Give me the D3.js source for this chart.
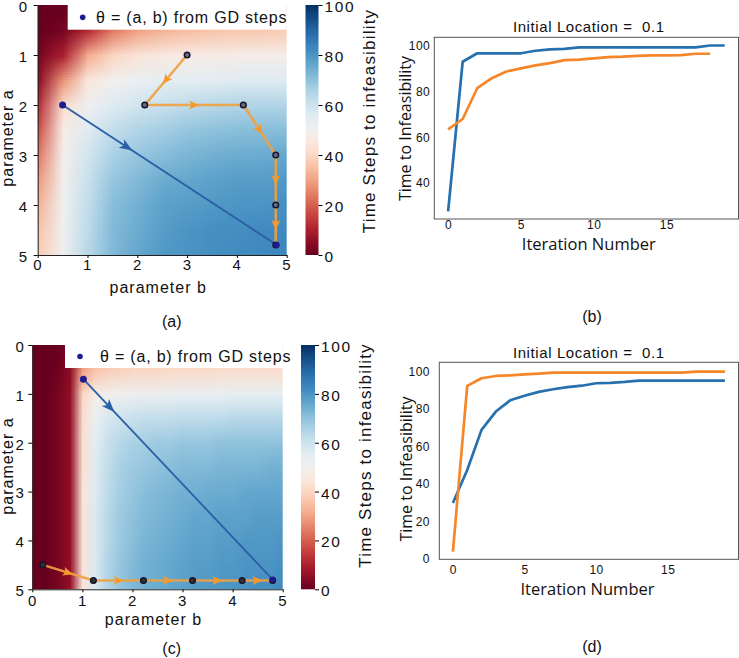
<!DOCTYPE html>
<html>
<head>
<meta charset="utf-8">
<script src="https://cdn.jsdelivr.net/npm/d3@7"></script>
<style>
body { margin: 0; background: #fff; }
svg text { font-family: "Liberation Sans", Arial, sans-serif; fill: #111; }
.lab { font-family: "Open Sans", "Liberation Sans", sans-serif !important; }
</style>
</head>
<body>
<div id="fig"></div>
<script>
// ---- data ----
var paramTicks = [0, 1, 2, 3, 4, 5]
var cbarTicks = [0, 20, 40, 60, 80, 100]
var iterTicks = [0, 5, 10, 15]
var timeTicksB = [40, 60, 80, 100]
var timeTicksD = [0, 20, 40, 60, 80, 100]

// heatmap (a): rows a = 0..5 step 0.5, cols b = 0..5 step 0.5
var heatA = [
  [0, 0, 2, 8, 15, 20, 24, 26, 28, 29, 30],
  [0, 2, 12, 24, 30, 33, 35, 36, 37, 37, 38],
  [2, 10, 32, 40, 44, 46, 47, 47, 48, 48, 48],
  [5, 28, 45, 50, 53, 54, 55, 55, 56, 56, 56],
  [12, 42, 52, 56, 59, 61, 63, 64, 65, 65, 65],
  [18, 47, 56, 62, 65, 67, 69, 70, 71, 71, 71],
  [24, 49, 59, 66, 69, 71, 73, 74, 75, 75, 76],
  [29, 50, 61, 69, 72, 75, 76, 77, 78, 78, 79],
  [33, 51, 62, 71, 74, 77, 78, 79, 80, 80, 81],
  [36, 51, 63, 72, 75, 78, 80, 81, 81, 82, 82],
  [38, 51, 64, 72, 76, 79, 80, 81, 82, 82, 83]
]
// heatmap (c): rows a = 0..5 step 0.5, cols b = 0..5 step 0.25
var heatC = [
  [0, 0, 0, 3, 20, 28, 32, 33, 34, 34, 35, 35, 35, 35, 36, 36, 36, 36, 36, 36, 36],
  [0, 0, 1, 5, 30, 36, 38, 39, 40, 40, 40, 41, 41, 41, 41, 42, 42, 42, 42, 42, 42],
  [0, 0, 2, 6, 40, 48, 50, 51, 52, 52, 52, 53, 53, 53, 53, 53, 54, 54, 54, 54, 54],
  [0, 0, 2, 6, 42, 53, 58, 60, 61, 62, 62, 62, 63, 63, 63, 63, 64, 64, 64, 64, 64],
  [0, 0, 2, 6, 43, 55, 61, 64, 66, 67, 68, 68, 69, 69, 69, 70, 70, 70, 70, 70, 70],
  [0, 0, 2, 6, 43, 56, 62, 66, 68, 69, 70, 71, 72, 72, 72, 73, 73, 73, 73, 74, 74],
  [0, 0, 2, 6, 44, 56, 63, 67, 69, 71, 72, 73, 74, 74, 75, 75, 75, 76, 76, 76, 76],
  [0, 0, 2, 6, 44, 57, 64, 68, 70, 72, 73, 74, 75, 76, 76, 77, 77, 77, 78, 78, 78],
  [0, 0, 2, 6, 44, 57, 64, 68, 71, 73, 74, 75, 76, 77, 77, 78, 78, 79, 79, 79, 80],
  [0, 0, 2, 6, 44, 57, 65, 69, 72, 74, 75, 76, 77, 78, 78, 79, 79, 80, 80, 80, 81],
  [0, 0, 2, 6, 44, 57, 65, 69, 72, 74, 75, 76, 77, 78, 79, 79, 80, 80, 81, 81, 82]
]

// GD trajectories, points as [b, a]
var blueStepsA = [[0.5, 2], [4.8, 4.8]]
var orangeStepsA = [[3, 1], [2.15, 2], [4.13, 2], [4.78, 3], [4.78, 4], [4.78, 4.8]]
var blueStepsC = [[1.02, 0.7], [4.8, 4.8]]
var orangeStepsC = [[0.21, 4.5], [1.22, 4.82], [2.22, 4.82], [3.2, 4.82], [4.19, 4.82], [4.8, 4.82]]

var iterB = [0, 1, 2, 3, 4, 5, 6, 7, 8, 9, 10, 11, 12, 13, 14, 15, 16, 17, 18, 19]
var blueB = [27.5, 93.1, 96.8, 96.8, 96.8, 96.8, 97.9, 98.5, 98.7, 99.4, 99.4, 99.4, 99.4, 99.4, 99.4, 99.4, 99.4, 99.4, 100.2, 100.2]
var orangeB = [63.5, 68, 81.5, 85.9, 88.8, 90.2, 91.5, 92.5, 93.8, 94, 94.6, 95.1, 95.3, 95.7, 95.9, 95.9, 96, 96.6, 96.6]
var iterD = [0, 1, 2, 3, 4, 5, 6, 7, 8, 9, 10, 11, 12, 13, 14, 15, 16, 17, 18, 19]
var blueD = [29.9, 47.5, 68.9, 78.7, 84.7, 87.1, 89.2, 90.6, 91.7, 92.5, 93.8, 94, 94.5, 95.2, 95.2, 95.2, 95.2, 95.2, 95.2, 95.2]
var orangeD = [3.9, 92.4, 96.5, 97.7, 98, 98.5, 99, 99.5, 99.5, 99.5, 99.5, 99.5, 99.5, 99.5, 99.5, 99.5, 99.5, 100, 100, 100]

var legendText = "\u03b8 = (a, b) from GD steps"
var titleText = "Initial Location =  0.1"

// ---- drawing ----
var svg = d3.select("#fig").append("svg")
    .attr("width", 739)
    .attr("height", 658)

var color = d3.scaleSequential(d3.interpolateRdBu).domain([0, 100])
var intFmt = d3.format("d")

var defs = svg.append("defs")
var grad = defs.append("linearGradient").attr("id", "cbgrad")
    .attr("x1", 0).attr("y1", 1).attr("x2", 0).attr("y2", 0)
d3.range(0, 101, 5).forEach(v => {
    grad.append("stop").attr("offset", v / 100).attr("stop-color", color(v))
})

function arrowHead(g, p0, p1, t, fill, len, wid) {
    var x = p0[0] + (p1[0] - p0[0]) * t
    var y = p0[1] + (p1[1] - p0[1]) * t
    var ang = Math.atan2(p1[1] - p0[1], p1[0] - p0[0]) * 180 / Math.PI
    g.append("path")
        .attr("d", `M${len / 2},0 L${-len / 2},${wid} L${-len / 4},0 L${-len / 2},${-wid} Z`)
        .attr("transform", `translate(${x},${y}) rotate(${ang})`)
        .attr("fill", fill)
}

function heatPanel(c) {
    var g = svg.append("g")
    var x = d3.scaleLinear().domain([0, 5]).range([c.left, c.right])
    var y = d3.scaleLinear().domain([0, 5]).range([c.top, c.bottom])

    var rows = c.grid.length, cols = c.grid[0].length
    var db = 5 / (cols - 1), da = 5 / (rows - 1)
    var canvas = document.createElement("canvas")
    canvas.width = cols
    canvas.height = rows
    var ctx = canvas.getContext("2d")
    c.grid.forEach((row, i) => row.forEach((v, j) => {
        ctx.fillStyle = color(v)
        ctx.fillRect(j, i, 1, 1)
    }))

    defs.append("clipPath").attr("id", c.id + "clip").append("rect")
        .attr("x", c.left).attr("y", c.top)
        .attr("width", c.right - c.left).attr("height", c.bottom - c.top)

    g.append("image")
        .attr("href", canvas.toDataURL())
        .attr("x", x(-db / 2)).attr("y", y(-da / 2))
        .attr("width", x(5 + db / 2) - x(-db / 2))
        .attr("height", y(5 + da / 2) - y(-da / 2))
        .attr("preserveAspectRatio", "none")
        .attr("clip-path", `url(#${c.id}clip)`)

    // axes
    g.append("g").attr("transform", `translate(0,${c.bottom})`)
        .call(d3.axisBottom(x).tickValues(paramTicks).tickFormat(intFmt)
            .tickSize(3).tickPadding(c.xPad).tickSizeOuter(0))
    var ay = g.append("g").attr("transform", `translate(${c.left},0)`)
        .call(d3.axisLeft(y).tickValues(paramTicks).tickFormat(intFmt)
            .tickSize(4).tickPadding(c.yPad).tickSizeOuter(0))
    ay.selectAll(".tick text").attr("dy", "0.42em")
    g.selectAll(".tick text").attr("font-size", 15).style("letter-spacing", "1.5px")
    g.selectAll(".domain").attr("stroke", "#222")

    // trajectories
    var line = d3.line().x(d => x(d[0])).y(d => y(d[1]))
    var tg = g.append("g").attr("clip-path", `url(#${c.id}clip)`)
    tg.append("path").datum(c.blue).attr("d", line)
        .attr("fill", "none").attr("stroke", "#2b5fa6").attr("stroke-width", 1.8)
    var bp = c.blue.map(d => [x(d[0]), y(d[1])])
    arrowHead(tg, bp[0], bp[1], c.blueArrowT, "#2b5fa6", 13, 5)

    tg.append("path").datum(c.orange).attr("d", line)
        .attr("fill", "none").attr("stroke", "#f0a040").attr("stroke-width", 2.6)
        .attr("stroke-opacity", 0.9).attr("stroke-linejoin", "round")
    var op = c.orange.map(d => [x(d[0]), y(d[1])])
    for (var i = 0; i < op.length - 1; i++) {
        arrowHead(tg, op[i], op[i + 1], 0.5, "#f59a2a", 10, 4.5)
    }
    tg.selectAll("circle.step").data(c.orange).enter().append("circle")
        .attr("class", "step")
        .attr("cx", d => x(d[0])).attr("cy", d => y(d[1]))
        .attr("r", 2.8)
        .attr("fill", c.markFill).attr("stroke", "#151530").attr("stroke-width", 1.5)
    tg.append("circle").attr("cx", bp[0][0]).attr("cy", bp[0][1]).attr("r", 3.5).attr("fill", "#1d1d8f")
    tg.append("circle").attr("cx", bp[1][0]).attr("cy", bp[1][1]).attr("r", 3).attr("fill", "#1d1d8f")

    // legend
    g.append("rect").attr("x", c.legX).attr("y", c.top)
        .attr("width", c.right - c.legX).attr("height", c.legH)
        .attr("fill", "#fff")
    g.append("circle").attr("cx", c.legX + 15).attr("cy", c.top + c.legH / 2)
        .attr("r", 2.8).attr("fill", "#1d1d8f")
    g.append("text").attr("x", c.legTextX).attr("y", c.top + c.legH / 2 + 5.5)
        .attr("font-size", 16).style("letter-spacing", "0.8px")
        .text(legendText)

    // colorbar
    var cy = d3.scaleLinear().domain([0, 100]).range([c.bottom, c.top])
    g.append("rect").attr("x", c.cbX0).attr("y", c.top)
        .attr("width", c.cbX1 - c.cbX0).attr("height", c.bottom - c.top)
        .attr("fill", "url(#cbgrad)")
    var cb = g.append("g").attr("transform", `translate(${c.cbX1},0)`)
        .call(d3.axisRight(cy).tickValues(cbarTicks).tickFormat(intFmt)
            .tickSize(4).tickPadding(2).tickSizeOuter(0))
    cb.select(".domain").remove()
    cb.selectAll(".tick text").attr("font-size", 15.5).attr("dy", "0.42em")
        .style("letter-spacing", "1.6px")

    // labels
    g.append("text").attr("x", (c.left + c.right) / 2 - 4).attr("y", c.xLabY)
        .attr("text-anchor", "middle").attr("font-size", 16).style("letter-spacing", "1px")
        .text("parameter b")
    g.append("text").attr("transform", `translate(13,${c.yLabY}) rotate(-90)`)
        .attr("text-anchor", "middle").attr("font-size", 16).style("letter-spacing", "1px")
        .text("parameter a")
    g.append("text").attr("transform", `translate(${c.cbLabX},${c.cbLabY}) rotate(-90)`)
        .attr("text-anchor", "middle").attr("font-size", 17).style("letter-spacing", "1.2px")
        .text("Time Steps to infeasibility")
    g.append("text").attr("x", 171.7).attr("y", c.panelY)
        .attr("text-anchor", "middle").attr("font-size", 16)
        .text(c.panel)
}

function linePanel(c) {
    var g = svg.append("g")
    var x = d3.scaleLinear().domain([-0.95, 19.95]).range([c.left, c.right])
    var y = d3.scaleLinear().domain(c.yDom).range([c.bottom, c.top])

    g.append("rect").attr("x", c.left).attr("y", c.top)
        .attr("width", c.right - c.left).attr("height", c.bottom - c.top)
        .attr("fill", "#fff").attr("stroke", "#555").attr("stroke-width", 1)

    g.append("g").attr("transform", `translate(0,${c.bottom})`)
        .call(d3.axisBottom(x).tickValues(iterTicks).tickFormat(intFmt).tickSize(0).tickPadding(c.xPad))
    g.append("g").attr("transform", `translate(${c.left},0)`)
        .call(d3.axisLeft(y).tickValues(c.yTicks).tickFormat(intFmt).tickSize(0).tickPadding(c.yPad))
    g.selectAll(".domain").remove()
    g.selectAll(".tick text").attr("font-size", 12).style("letter-spacing", "0.5px").attr("fill", "#222")

    var line = d3.line().x((d, i) => x(c.iters[i])).y(d => y(d))
    g.append("path").datum(c.blue).attr("d", line)
        .attr("fill", "none").attr("stroke", "#2770ae").attr("stroke-width", 2.7)
        .attr("stroke-linejoin", "round")
    g.append("path").datum(c.orange).attr("d", line)
        .attr("fill", "none").attr("stroke", "#f5862a").attr("stroke-width", 2.7)
        .attr("stroke-linejoin", "round")

    g.append("text").attr("x", 588.8).attr("y", c.titleY)
        .attr("text-anchor", "middle").attr("font-size", 15)
        .style("letter-spacing", "0.6px").style("white-space", "pre")
        .text(titleText)
    g.append("text").attr("class", "lab").attr("x", c.xLabX).attr("y", c.xLabY)
        .attr("text-anchor", "middle").attr("font-size", 16.5)
        .text("Iteration Number")
    g.append("text").attr("class", "lab")
        .attr("transform", `translate(${c.yLabX},${c.yLabY}) rotate(-90)`)
        .attr("text-anchor", "middle").attr("font-size", 16)
        .text("Time to Infeasibility")
    g.append("text").attr("x", 592).attr("y", c.panelY)
        .attr("text-anchor", "middle").attr("font-size", 16)
        .text(c.panel)
}

heatPanel({
    id: "ha", grid: heatA, left: 37.7, right: 286.7, top: 5, bottom: 255,
    xPad: 1, yPad: 5, blue: blueStepsA, orange: orangeStepsA, blueArrowT: 0.3, markFill: "#6a6a80",
    legX: 67.7, legH: 24.7, legTextX: 96,
    cbX0: 305.5, cbX1: 318.5, cbLabX: 375, cbLabY: 121,
    xLabY: 293, yLabY: 138, panel: "(a)", panelY: 327
})
heatPanel({
    id: "hc", grid: heatC, left: 32.3, right: 282.7, top: 345, bottom: 589.3,
    xPad: 3, yPad: 3, blue: blueStepsC, orange: orangeStepsC, blueArrowT: 0.14, markFill: "#333",
    legX: 65, legH: 23, legTextX: 100,
    cbX0: 301, cbX1: 315, cbLabX: 371, cbLabY: 455.5,
    xLabY: 625, yLabY: 466, panel: "(c)", panelY: 654
})
linePanel({
    left: 434.3, right: 738.5, top: 37.3, bottom: 219, yDom: [24.2, 103.8], yTicks: timeTicksB,
    xPad: 1, yPad: 4, iters: iterB, blue: blueB, orange: orangeB,
    titleY: 32, xLabX: 588.8, xLabY: 250, yLabX: 411, yLabY: 128.5, panel: "(b)", panelY: 322
})
linePanel({
    left: 439.3, right: 738.5, top: 362.3, bottom: 559.3, yDom: [-0.2, 105], yTicks: timeTicksD,
    xPad: 6, yPad: 9.3, iters: iterD, blue: blueD, orange: orangeD,
    titleY: 357.5, xLabX: 587.5, xLabY: 595, yLabX: 412, yLabY: 469, panel: "(d)", panelY: 652
})
</script>
</body>
</html>
